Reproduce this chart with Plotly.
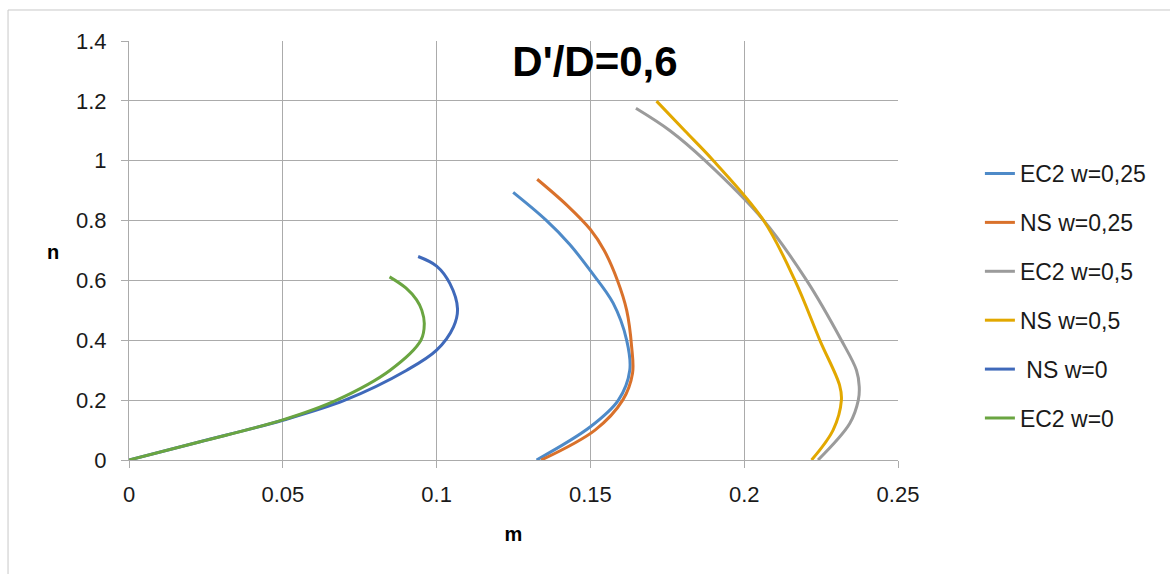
import plotly.graph_objects as go

# ---- data ----
ec2_w025_m = [0.1325, 0.1500, 0.1591, 0.1628, 0.1618, 0.1574, 0.1498, 0.1433, 0.1355, 0.1249]
ec2_w025_n = [0.0, 0.111, 0.200, 0.300, 0.400, 0.524, 0.635, 0.720, 0.802, 0.894]

ns_w025_m = [0.1340, 0.1515, 0.1605, 0.1637, 0.1634, 0.1618, 0.1588, 0.1545, 0.1500, 0.1425, 0.1327]
ns_w025_n = [0.0, 0.100, 0.200, 0.290, 0.379, 0.500, 0.600, 0.700, 0.770, 0.850, 0.938]

ec2_w05_m = [0.2240, 0.2343, 0.2371, 0.2374, 0.2365, 0.2316, 0.2203, 0.2062, 0.1873, 0.1759, 0.1648]
ec2_w05_n = [0.0, 0.122, 0.200, 0.245, 0.300, 0.400, 0.600, 0.802, 1.000, 1.100, 1.175]

ns_w05_m = [0.2219, 0.2289, 0.2316, 0.2310, 0.2246, 0.2165, 0.2062, 0.1900, 0.1807, 0.1715]
ns_w05_n = [0.0, 0.100, 0.200, 0.250, 0.400, 0.600, 0.802, 1.000, 1.100, 1.199]

ns_w0_m = [0.0, 0.0231, 0.0500, 0.0702, 0.0903, 0.1000, 0.1055, 0.1068, 0.1043, 0.1000, 0.0940]
ns_w0_n = [0.0, 0.061, 0.133, 0.200, 0.300, 0.367, 0.445, 0.505, 0.590, 0.648, 0.680]

ec2_w0_m = [0.0, 0.0231, 0.0500, 0.0675, 0.0849, 0.0949, 0.0960, 0.0952, 0.0935, 0.0900, 0.0847]
ec2_w0_n = [0.0, 0.061, 0.134, 0.200, 0.300, 0.400, 0.455, 0.500, 0.535, 0.575, 0.612]

series = [
    ("EC2 w=0,25", ec2_w025_m, ec2_w025_n, "#4E8AC8"),
    ("NS w=0,25", ns_w025_m, ns_w025_n, "#D9712B"),
    ("EC2 w=0,5", ec2_w05_m, ec2_w05_n, "#9B9B9B"),
    ("NS w=0,5", ns_w05_m, ns_w05_n, "#E2A800"),
    ("\u00a0NS w=0", ns_w0_m, ns_w0_n, "#3F69BA"),
    ("EC2 w=0", ec2_w0_m, ec2_w0_n, "#6AA541"),
]

x_ticks = [0, 0.05, 0.1, 0.15, 0.2, 0.25]
x_ticktext = ["0", "0.05", "0.1", "0.15", "0.2", "0.25"]
y_ticks = [0, 0.2, 0.4, 0.6, 0.8, 1.0, 1.2, 1.4]
y_ticktext = ["0", "0.2", "0.4", "0.6", "0.8", "1", "1.2", "1.4"]

FONT = "Liberation Sans, Arial, sans-serif"
GRID = "#ababab"

fig = go.Figure()
for i, (name, m, n, col) in enumerate(series):
    fig.add_trace(go.Scatter(
        x=m, y=n, mode="lines", name=name, legendgroup=f"g{i}",
        line=dict(color=col, width=3, shape="spline", smoothing=1.0),
    ))

fig.update_layout(
    width=1170, height=574,
    margin=dict(l=129, r=272, t=41, b=114),
    paper_bgcolor="white", plot_bgcolor="white",
    font=dict(family=FONT, size=22, color="#1a1a1a"),
    title=dict(text="<b>D'/D=0,6</b>", x=0.5085, xanchor="center", y=0.894, yanchor="middle",
               xref="container", yref="container",
               font=dict(family=FONT, size=42, color="#000000")),
    legend=dict(x=1.1065, xanchor="left", y=0.735, yanchor="top",
                font=dict(family=FONT, size=23, color="#1a1a1a"),
                tracegroupgap=16, bgcolor="rgba(0,0,0,0)"),
    showlegend=True,
    shapes=[dict(type="rect", xref="paper", yref="paper",
                 x0=-0.1573, x1=1.36, y0=-0.29, y1=1.074,
                 line=dict(color="#c8c8c8", width=1), fillcolor="rgba(0,0,0,0)", layer="below")],
    annotations=[dict(text="<b>n</b>", xref="paper", yref="paper",
                      x=-0.0992, y=0.496, xanchor="center", yanchor="middle", showarrow=False,
                      font=dict(family=FONT, size=20, color="#000"))],
)

fig.update_xaxes(
    range=[0, 0.25], tickvals=x_ticks, ticktext=x_ticktext,
    showgrid=True, gridcolor=GRID, gridwidth=1,
    showline=True, linecolor=GRID, linewidth=1,
    ticks="outside", ticklen=7, tickcolor=GRID, ticklabelstandoff=8,
    zeroline=False, mirror=False,
    title=dict(text="<b>m</b>", font=dict(family=FONT, size=20, color="#000"), standoff=20),
)
fig.update_yaxes(
    range=[0, 1.4], tickvals=y_ticks, ticktext=y_ticktext,
    showgrid=True, gridcolor=GRID, gridwidth=1,
    showline=True, linecolor=GRID, linewidth=1,
    ticks="outside", ticklen=7, tickcolor=GRID, ticklabelstandoff=10,
    zeroline=False,
)

fig.write_html("out.html")
